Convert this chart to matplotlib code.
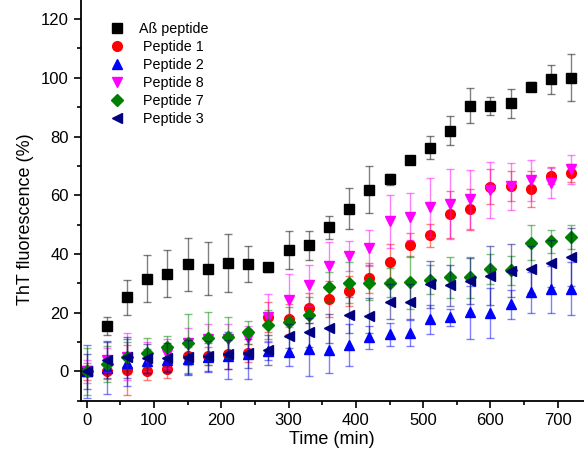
import numpy as np
import matplotlib
matplotlib.use("Agg")
import matplotlib.pyplot as plt
from matplotlib.ticker import MultipleLocator
from matplotlib.colors import to_rgba

plt.rcParams['font.family'] = ['Liberation Sans', 'DejaVu Sans']

time = [0, 30, 60, 90, 120, 150, 180, 210, 240, 270, 300, 330, 360,
        390, 420, 450, 480, 510, 540, 570, 600, 630, 660, 690, 720]

abeta = [0, 15.5, 25.3, 31.6, 33.2, 36.5, 35, 36.9, 36.6, 35.4, 41.4, 42.9, 49.1,
         55.4, 61.8, 65.4, 72, 76.2, 82, 90.5, 90.5, 91.3, 97, 99.5, 100]
abeta_err = [0, 3, 6, 8, 8, 9, 9, 10, 6, 1.5, 6.5, 5, 4,
             7, 8, 2, 0, 4, 5, 6, 3, 5, 1.5, 5, 8]

pep1 = [0, 0.3, 0.5, 0, 0.7, 5.2, 5.3, 5.9, 6.2, 18.5, 17.8, 21.6, 24.7,
        27.4, 31.8, 37.4, 43, 46.3, 53.5, 55.3, 62.9, 63.2, 62.1, 66.7, 67.6]
pep1_err = [3, 3, 8.5, 3, 3, 3, 3, 5, 3, 5, 5, 5, 6,
            5, 5, 6, 4, 4, 8, 7, 6, 5, 6, 3, 3]

pep2 = [0, 1.2, 3, 3.5, 4, 4.2, 4.8, 5.3, 6, 7, 6.7, 7.6, 7.3,
        9, 11.6, 12.6, 13, 17.7, 18.4, 20.2, 20, 22.8, 27, 28, 28.2]
pep2_err = [9, 9, 8, 4, 4, 5, 5, 8, 8.5, 3, 5, 9, 8,
            7, 4, 4, 4.5, 5, 3, 9, 8.5, 5, 7, 8, 9]

pep8 = [0, 3.9, 5, 5, 6, 9.8, 11, 11, 11.5, 18.4, 24.3, 29.4, 36,
        39.3, 42, 51.2, 52.7, 55.9, 57, 58.6, 61.7, 63.1, 65.1, 64.2, 68.8]
pep8_err = [4, 4, 8, 5, 5, 5, 5, 5, 4, 8, 9, 7, 8,
            5, 6, 9, 8, 10, 12, 10, 9.5, 8, 7, 5, 5]

pep7 = [0, 2.5, 5, 6.4, 8.2, 9.6, 11.3, 11.6, 13.3, 15.9, 17, 19.2, 28.8,
        30.2, 30.2, 30.2, 30.3, 31.2, 32, 32, 34.9, 34.4, 43.9, 44.3, 45.7]
pep7_err = [8, 6, 5, 5, 4, 10, 9, 7, 4, 5, 5, 6, 5,
            7, 6, 5, 9, 5, 7, 7, 5, 5, 6, 4, 4]

pep3 = [0, 3.9, 4.8, 4.5, 4.7, 4.8, 5.2, 5.8, 6.2, 7.3, 12.1, 13.3, 14.7,
        19.2, 19, 23.8, 23.8, 29.7, 29.4, 30.8, 32.6, 34.3, 34.8, 36.8, 39]
pep3_err = [6, 6, 7, 5, 5, 6, 5, 5, 5, 5, 4, 5, 5,
            6, 6, 6, 6, 8, 7, 8, 10, 9, 8, 8, 10]

series = [
    (abeta, abeta_err, 's', 'black', 'Aß peptide'),
    (pep1, pep1_err, 'o', 'red', ' Peptide 1'),
    (pep2, pep2_err, '^', 'blue', ' Peptide 2'),
    (pep8, pep8_err, 'v', 'magenta', ' Peptide 8'),
    (pep7, pep7_err, 'D', 'green', ' Peptide 7'),
    (pep3, pep3_err, '<', 'navy', ' Peptide 3'),
]

fig = plt.figure(figsize=(5.84, 4.57), dpi=100)
ax = fig.add_axes([0.138, 0.123, 0.862, 0.877])

handles = []
for y, err, mk, col, lab in series:
    ecol = to_rgba(col, 0.5)
    ax.errorbar(time, y, yerr=err, fmt='none', ecolor=ecol,
                elinewidth=1.0, capsize=3, capthick=1.0)
    ms = 6 if mk == 'D' else 7
    h, = ax.plot(time, y, linestyle='none', marker=mk, color=col,
                 markersize=ms, label=lab)
    handles.append(h)

ax.set_xlim(-9, 739)
ax.set_ylim(-10, 126.5)
ax.xaxis.set_major_locator(MultipleLocator(100))
ax.xaxis.set_minor_locator(MultipleLocator(50))
ax.yaxis.set_major_locator(MultipleLocator(20))
ax.yaxis.set_minor_locator(MultipleLocator(10))
ax.tick_params(which='major', direction='out', length=5, width=1.2, labelsize=12)
ax.tick_params(which='minor', direction='out', length=3, width=1.2)
ax.spines['top'].set_visible(False)
ax.spines['right'].set_visible(False)
ax.spines['left'].set_linewidth(1.3)
ax.spines['bottom'].set_linewidth(1.3)

ax.set_xlabel('Time (min)', fontsize=13)
ax.set_ylabel('ThT fluorescence (%)', fontsize=13)
ax.xaxis.set_label_coords(0.5, -0.097)
ax.yaxis.set_label_coords(-0.11, 0.454)
ax.xaxis.label.set_va('center')
ax.yaxis.label.set_va('center')

ax.legend(handles=handles, loc='upper left', frameon=False, fontsize=10.3,
          labelspacing=0.28, handletextpad=0.9, borderaxespad=0.3,
          bbox_to_anchor=(0.036, 0.97), handlelength=1.2)

fig.savefig('out.png', dpi=100)
